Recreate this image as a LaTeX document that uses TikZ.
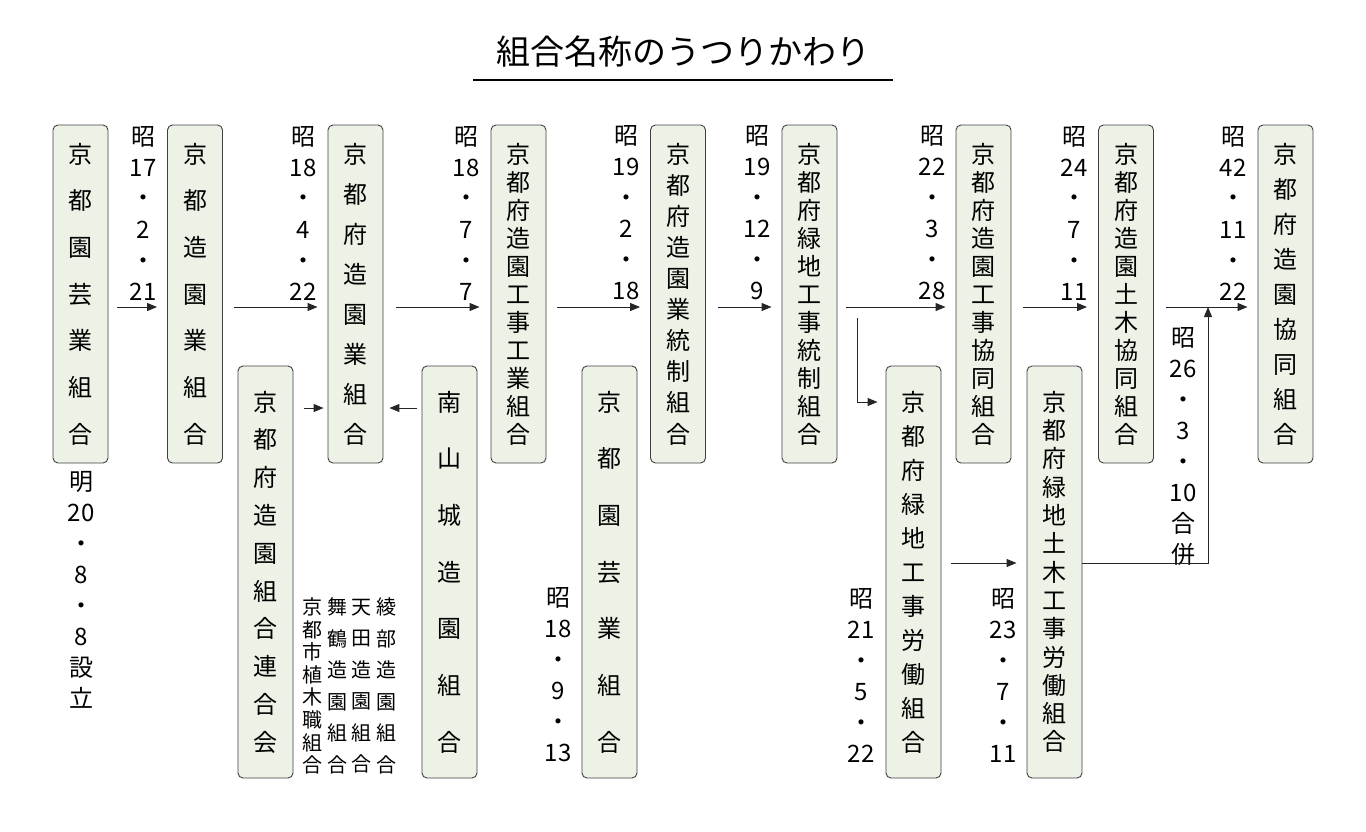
\documentclass[tikz,border=0pt]{standalone}
\usepackage{fontspec}
\setmainfont{Noto Sans CJK JP}
\usetikzlibrary{arrows.meta}
\begin{document}
\begin{tikzpicture}[x=1pt,y=-1pt,
 box/.style={draw=black!75,line width=0.9pt,fill={rgb,255:red,236;green,242;blue,230},rounded corners=5pt,minimum width=55pt,inner sep=0pt,align=center},
 up/.style={box,minimum height=338pt},
 lo/.style={box,minimum height=412pt},
 lbl/.style={align=center,inner sep=0pt},
 arr/.style={-{Triangle[length=10pt,width=8pt]},line width=1pt,black!85}]
\useasboundingbox (0,0) rectangle (1366,831);
\node[lbl,font=\fontsize{34}{34}\selectfont] (title) at (683,52) {組合名称のうつりかわり};
\draw[line width=1.4pt] (473,80) -- (893,80);
% upper boxes
\node[up,font=\fontsize{24}{46.7}\selectfont] (b1) at (80.5,294) {京\\都\\園\\芸\\業\\組\\合};
\node[up,font=\fontsize{24}{46.7}\selectfont] (b2) at (195,294) {京\\都\\造\\園\\業\\組\\合};
\node[up,font=\fontsize{24}{40}\selectfont] (b3) at (355.5,294) {京\\都\\府\\造\\園\\業\\組\\合};
\node[up,font=\fontsize{24}{28}\selectfont] (b4) at (518.5,294) {京\\都\\府\\造\\園\\工\\事\\工\\業\\組\\合};
\node[up,font=\fontsize{24}{31.1}\selectfont] (b5) at (678,294) {京\\都\\府\\造\\園\\業\\統\\制\\組\\合};
\node[up,font=\fontsize{24}{28}\selectfont] (b6) at (809.5,294) {京\\都\\府\\緑\\地\\工\\事\\統\\制\\組\\合};
\node[up,font=\fontsize{24}{28}\selectfont] (b7) at (983.5,294) {京\\都\\府\\造\\園\\工\\事\\協\\同\\組\\合};
\node[up,font=\fontsize{24}{28}\selectfont] (b8) at (1126,294) {京\\都\\府\\造\\園\\土\\木\\協\\同\\組\\合};
\node[up,font=\fontsize{24}{35}\selectfont] (b9) at (1285.5,294) {京\\都\\府\\造\\園\\協\\同\\組\\合};
% lower boxes
\node[lo,font=\fontsize{24}{37.8}\selectfont] (l1) at (265.5,572) {京\\都\\府\\造\\園\\組\\合\\連\\合\\会};
\node[lo,font=\fontsize{24}{56.7}\selectfont] (l2) at (449.5,572) {南\\山\\城\\造\\園\\組\\合};
\node[lo,font=\fontsize{24}{56.7}\selectfont] (l3) at (609.5,572) {京\\都\\園\\芸\\業\\組\\合};
\node[lo,font=\fontsize{24}{34}\selectfont] (l4) at (913.5,572) {京\\都\\府\\緑\\地\\工\\事\\労\\働\\組\\合};
\node[lo,font=\fontsize{24}{28.3}\selectfont] (l5) at (1054.5,572) {京\\都\\府\\緑\\地\\土\\木\\工\\事\\労\\働\\組\\合};
% date labels
\begin{scope}[every node/.style={lbl,font=\fontsize{24}{31}\selectfont}]
\node (d1) at (143,213) {昭\\17\\・\\2\\・\\21};
\node (d2) at (303,213) {昭\\18\\・\\4\\・\\22};
\node (d3) at (466,213) {昭\\18\\・\\7\\・\\7};
\node (d4) at (626,213) {昭\\19\\・\\2\\・\\18};
\node (d5) at (757,213) {昭\\19\\・\\12\\・\\9};
\node (d6) at (932,213) {昭\\22\\・\\3\\・\\28};
\node (d7) at (1074,213) {昭\\24\\・\\7\\・\\11};
\node (d8) at (1233,213) {昭\\42\\・\\11\\・\\22};
\node (d9) at (81,590) {明\\20\\・\\8\\・\\8\\設\\立};
\node (d10) at (558,675) {昭\\18\\・\\9\\・\\13};
\node (d11) at (861,675) {昭\\21\\・\\5\\・\\22};
\node (d12) at (1003,675) {昭\\23\\・\\7\\・\\11};
\node (d13) at (1183,447) {昭\\26\\・\\3\\・\\10\\合\\併};
\end{scope}
\begin{scope}[every node/.style={lbl,font=\fontsize{20}{31.5}\selectfont}]
\node (g1) at (386,686) {綾\\部\\造\\園\\組\\合};
\node (g2) at (361,686) {天\\田\\造\\園\\組\\合};
\node (g3) at (337,686) {舞\\鶴\\造\\園\\組\\合};
\node[font=\fontsize{20}{22.6}\selectfont] (g4) at (312,686) {京\\都\\市\\植\\木\\職\\組\\合};
\end{scope}
% arrows
\draw[arr] ([xshift=9pt]b1.east|-0,307) -- ([xshift=-10pt]b2.west|-0,307);
\draw[arr] ([xshift=11pt]b2.east|-0,307) -- ([xshift=-10pt]b3.west|-0,307);
\draw[arr] ([xshift=13pt]b3.east|-0,307) -- ([xshift=-11pt]b4.west|-0,307);
\draw[arr] ([xshift=11pt]b4.east|-0,307) -- ([xshift=-10pt]b5.west|-0,307);
\draw[arr] ([xshift=12pt]b5.east|-0,307) -- ([xshift=-10pt]b6.west|-0,307);
\draw[arr] ([xshift=9pt]b6.east|-0,307) -- ([xshift=-10pt]b7.west|-0,307);
\draw[arr] ([xshift=12pt]b7.east|-0,307) -- ([xshift=-11pt]b8.west|-0,307);
\draw[arr] ([xshift=12pt]b8.east|-0,307) -- ([xshift=-10pt]b9.west|-0,307);
\draw[arr] ([xshift=20pt]b6.east|-0,318) |- ([xshift=-8pt]l4.west|-0,402);
\draw[arr] ([xshift=11pt]l1.east|-0,408) -- ([xshift=-4pt]b3.west|-0,408);
\draw[arr] ([xshift=-5pt]l2.west|-0,408) -- ([xshift=6pt]b3.east|-0,408);
\draw[arr] ([xshift=10pt]l4.east|-0,563) -- ([xshift=-10pt]l5.west|-0,563);
\draw[arr] (l5.east|-0,563) -| (1208,307);
\end{tikzpicture}
\end{document}
